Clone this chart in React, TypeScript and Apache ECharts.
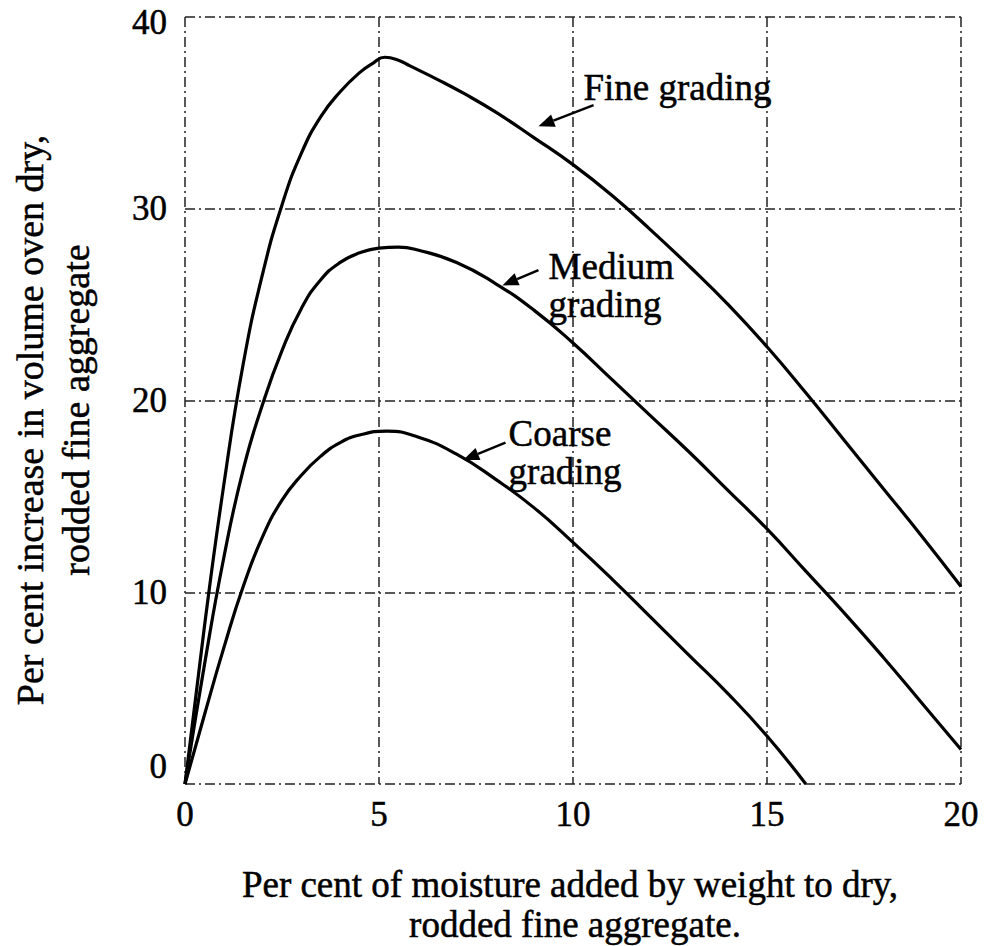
import React, { useEffect, useRef } from "react";
import * as echarts from "echarts";

// axis ticks
const xTicks = [0, 5, 10, 15, 20];
const yTicks = [0, 10, 20, 30, 40];

// Fine grading
const fineX = [0, 0.5, 1.0, 1.5, 2.0, 2.5, 3.0, 3.5, 4.0, 4.5, 4.85, 5.15, 5.5, 5.8, 6.5, 7.2, 8, 9, 10, 11, 12, 13, 14, 15, 16, 17, 18, 19, 20];
const fineY = [0, 8.2, 15.6, 21.9, 26.6, 30.2, 32.9, 34.8, 36.1, 37.1, 37.6, 37.9, 37.75, 37.45, 36.75, 36.0, 35.05, 33.7, 32.3, 30.7, 28.9, 27.0, 25.0, 22.8, 20.4, 17.9, 15.4, 12.9, 10.3];

// Medium grading
const medX = [0, 0.5, 1.0, 1.5, 2.0, 2.5, 3.0, 3.5, 4.0, 4.5, 5.0, 5.5, 6, 7, 8, 9, 10, 11, 12, 13, 14, 15, 16, 17, 18, 19, 20];
const medY = [0, 6.2, 11.8, 16.4, 19.8, 22.6, 24.8, 26.3, 27.2, 27.7, 27.95, 28.0, 27.85, 27.2, 26.1, 24.7, 23.0, 21.1, 19.2, 17.3, 15.3, 13.3, 11.1, 8.9, 6.6, 4.2, 1.8];

// Coarse grading
const coarseX = [0, 0.5, 1.0, 1.5, 2.0, 2.5, 3.0, 3.5, 4.0, 4.5, 5.2, 6, 7, 8, 9, 10, 11, 12, 13, 14, 15, 16.0];
const coarseY = [0, 3.6, 7.1, 10.3, 12.9, 14.8, 16.1, 17.1, 17.8, 18.2, 18.4, 18.1, 17.2, 15.9, 14.4, 12.6, 10.7, 8.7, 6.7, 4.7, 2.5, 0];

// labels
const seriesNames = ["Fine grading", "Medium grading", "Coarse grading"];
const annotations = [
  { lines: ["Fine grading"], text: [10.27, 36.3], tail: [10.53, 35.4], head: [9.11, 34.3] },
  { lines: ["Medium", "grading"], text: [9.37, 27.0], tail: [9.11, 26.8], head: [8.18, 26.0] },
  { lines: ["Coarse", "grading"], text: [8.34, 18.3], tail: [8.26, 17.8], head: [7.17, 16.9] },
];
const xTitle = ["Per cent of moisture added by weight to dry,", "rodded fine aggregate."];
const yTitle = ["Per cent increase in volume oven dry,", "rodded fine aggregate"];

const zip = (xs: number[], ys: number[]) => xs.map((x, i) => [x, ys[i]]);

export default function App() {
  const ref = useRef<HTMLDivElement>(null);
  useEffect(() => {
    document.body.style.margin = "0";
    const chart = echarts.init(ref.current!, null, { renderer: "svg" });
    const font = "'Liberation Serif', 'Times New Roman', serif";
    const gridColor = "#222";
    const dash = [10, 4, 2, 4];
    const splitLine = { show: true, lineStyle: { color: gridColor, width: 1.5, type: dash } };
    const lineSeries = (name: string, data: number[][]) => ({
      name,
      type: "line",
      data,
      showSymbol: false,
      smooth: 0.5,
      lineStyle: { color: "#000", width: 3.2 },
      z: 5,
    });
    const labelStyle = { fontFamily: font, fontSize: 35, color: "#000", textBorderColor: "#000", textBorderWidth: 0.5 };
    const yMax = yTicks[yTicks.length - 1];
    chart.setOption({
      animation: false,
      backgroundColor: "#fff",
      grid: { left: 185, right: 26, top: 17, bottom: 162, containLabel: false },
      xAxis: {
        type: "value",
        min: xTicks[0],
        max: xTicks[xTicks.length - 1],
        interval: xTicks[1] - xTicks[0],
        axisLine: { show: false },
        axisTick: { show: false },
        splitLine,
        axisLabel: { ...labelStyle, margin: 13 },
      },
      yAxis: {
        type: "value",
        min: yTicks[0],
        max: yMax,
        interval: yTicks[1] - yTicks[0],
        axisLine: { show: false },
        axisTick: { show: false },
        splitLine,
        axisLabel: {
          ...labelStyle,
          margin: 18,
          formatter: (v: number) => (v === 0 ? "{z|0}" : v === yMax ? "{t|" + v + "}" : String(v)),
          rich: {
            z: { ...labelStyle, padding: [0, 0, 36, 0] },
            t: { ...labelStyle, padding: [10, 0, 0, 0] },
          },
        },
      },
      series: [
        lineSeries(seriesNames[0], zip(fineX, fineY)),
        lineSeries(seriesNames[1], zip(medX, medY)),
        lineSeries(seriesNames[2], zip(coarseX, coarseY)),
      ],
    });

    const px = (p: number[]) => chart.convertToPixel({ gridIndex: 0 }, p) as number[];
    const textStyle = (text: string, size: number, align: string) => ({
      text,
      font: `${size}px ${font}`,
      fill: "#000",
      stroke: "#000",
      lineWidth: 0.5,
      textAlign: align,
      textVerticalAlign: "middle",
    });
    const graphics: any[] = [];
    annotations.forEach((a) => {
      const t = px(a.text);
      a.lines.forEach((ln, i) => {
        graphics.push({ type: "text", x: t[0], y: t[1] + i * 38, style: textStyle(ln, 37, "left") });
      });
      const tail = px(a.tail);
      const head = px(a.head);
      const dx = head[0] - tail[0];
      const dy = head[1] - tail[1];
      const len = Math.hypot(dx, dy);
      const ux = dx / len, uy = dy / len;
      const hl = 16, hw = 6.5;
      const bx = head[0] - ux * hl, by = head[1] - uy * hl;
      graphics.push({
        type: "line",
        shape: { x1: tail[0], y1: tail[1], x2: bx, y2: by },
        style: { stroke: "#000", lineWidth: 2.5 },
      });
      graphics.push({
        type: "polygon",
        shape: { points: [head, [bx - uy * hw, by + ux * hw], [bx + uy * hw, by - ux * hw]] },
        style: { fill: "#000" },
      });
    });
    // x title
    graphics.push({ type: "text", x: 570, y: 884, style: textStyle(xTitle[0], 37, "center") });
    graphics.push({ type: "text", x: 575, y: 924, style: textStyle(xTitle[1], 37, "center") });
    // y title
    graphics.push({ type: "text", x: 30, y: 420, rotation: Math.PI / 2, style: textStyle(yTitle[0], 38, "center") });
    graphics.push({ type: "text", x: 76, y: 410, rotation: Math.PI / 2, style: textStyle(yTitle[1], 38, "center") });
    chart.setOption({ graphic: graphics });

    return () => chart.dispose();
  }, []);
  return <div ref={ref} style={{ position: "absolute", left: 0, top: 0, width: 987, height: 946 }} />;
}
